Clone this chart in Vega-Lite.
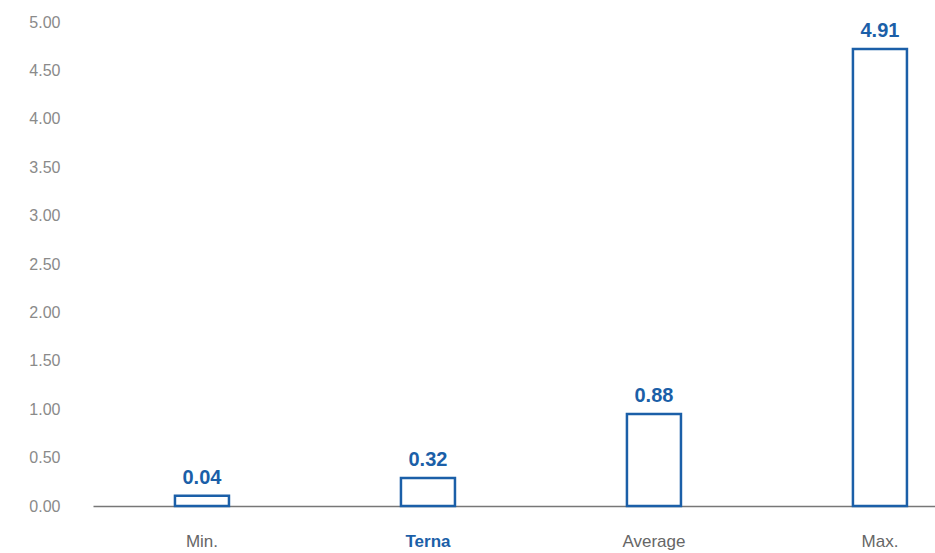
{
  "$schema": "https://vega.github.io/schema/vega-lite/v6.json",
  "width": 842,
  "height": 484,
  "autosize": "none",
  "padding": {"left": 93, "top": 22, "right": 0, "bottom": 47},
  "background": "white",
  "config": {"view": {"stroke": null}, "font": "Liberation Sans"},
  "data": {"values": [
    {"category": "Min.", "height": 0.107, "label": "0.04"},
    {"category": "Terna", "height": 0.29, "label": "0.32"},
    {"category": "Average", "height": 0.95, "label": "0.88"},
    {"category": "Max.", "height": 4.72, "label": "4.91"}
  ]},
  "encoding": {
    "x": {
      "field": "category", "type": "nominal", "sort": null,
      "scale": {"paddingInner": 0.761, "paddingOuter": 0.2434, "align": 0.745},
      "axis": {
        "title": null, "labelAngle": 0, "ticks": false, "domainColor": "#777777", "domainWidth": 1.5,
        "labelFontSize": 17, "labelPadding": 27,
        "labelColor": {"condition": {"test": "datum.value == 'Terna'", "value": "#1b5fa8"}, "value": "#666666"},
        "labelFontWeight": {"condition": {"test": "datum.value == 'Terna'", "value": "bold"}, "value": "normal"}
      }
    },
    "y": {
      "field": "height", "type": "quantitative",
      "scale": {"domain": [0, 5], "nice": false},
      "axis": {
        "title": null, "grid": false, "domain": false, "ticks": false, "values": [0, 0.5, 1, 1.5, 2, 2.5, 3, 3.5, 4, 4.5, 5],
        "format": ".2f", "labelFontSize": 16, "labelColor": "#8a8a8a", "labelPadding": 33
      }
    }
  },
  "layer": [
    {"mark": {"type": "bar", "fill": "white", "stroke": "#1b5fa8", "strokeWidth": 2.5}},
    {"mark": {"type": "text", "baseline": "bottom", "dy": -8, "fontSize": 20, "fontWeight": "bold", "color": "#1b5fa8"},
     "encoding": {"text": {"field": "label"}}}
  ]
}
